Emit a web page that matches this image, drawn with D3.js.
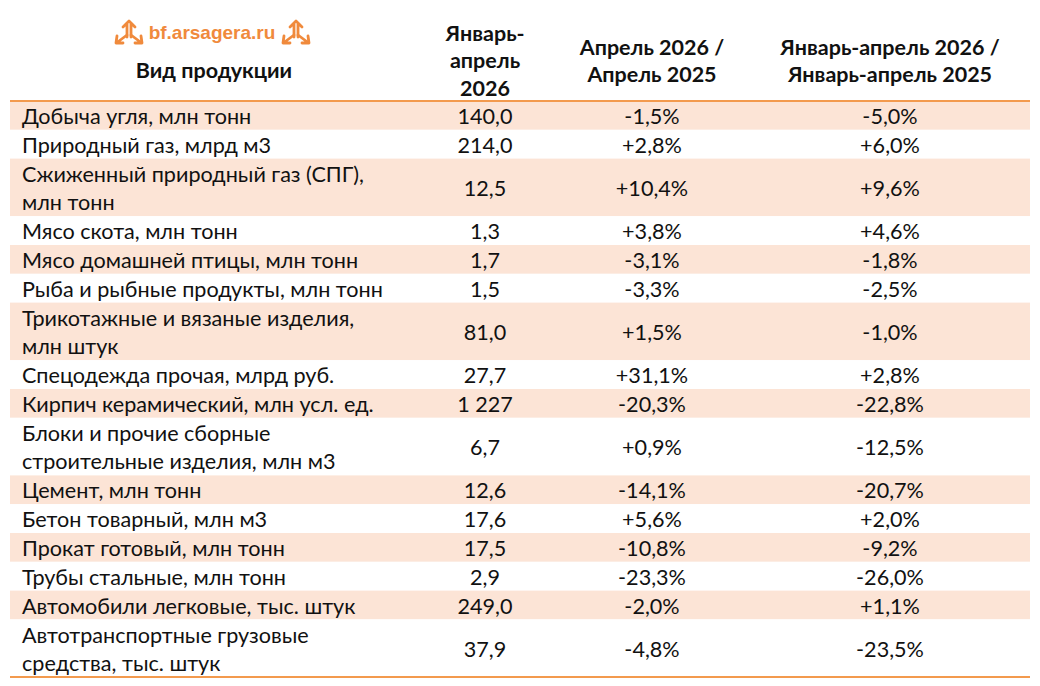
<!DOCTYPE html>
<html><head><meta charset="utf-8">
<script src="https://cdn.jsdelivr.net/npm/d3@7"></script>
<style>
body{margin:0;background:#fff;}
svg{display:block;font-family:Lato, "Open Sans", sans-serif;}
</style></head>
<body>
<script>
const products = [
  "Добыча угля, млн тонн",
  "Природный газ, млрд м3",
  "Сжиженный природный газ (СПГ),\nмлн тонн",
  "Мясо скота, млн тонн",
  "Мясо домашней птицы, млн тонн",
  "Рыба и рыбные продукты, млн тонн",
  "Трикотажные и вязаные изделия,\nмлн штук",
  "Спецодежда прочая, млрд руб.",
  "Кирпич керамический, млн усл. ед.",
  "Блоки и прочие сборные\nстроительные изделия, млн м3",
  "Цемент, млн тонн",
  "Бетон товарный, млн м3",
  "Прокат готовый, млн тонн",
  "Трубы стальные, млн тонн",
  "Автомобили легковые, тыс. штук",
  "Автотранспортные грузовые\nсредства, тыс. штук"
];
const janApr2026 = ["140,0","214,0","12,5","1,3","1,7","1,5","81,0","27,7","1 227","6,7","12,6","17,6","17,5","2,9","249,0","37,9"];
const aprYoY = ["-1,5%","+2,8%","+10,4%","+3,8%","-3,1%","-3,3%","+1,5%","+31,1%","-20,3%","+0,9%","-14,1%","+5,6%","-10,8%","-23,3%","-2,0%","-4,8%"];
const janAprYoY = ["-5,0%","+6,0%","+9,6%","+4,6%","-1,8%","-2,5%","-1,0%","+2,8%","-22,8%","-12,5%","-20,7%","+2,0%","-9,2%","-26,0%","+1,1%","-23,5%"];
const headers = [
  ["Вид продукции"],
  ["Январь-","апрель","2026"],
  ["Апрель 2026 /","Апрель 2025"],
  ["Январь-апрель 2026 /","Январь-апрель 2025"]
];
const logoText = "bf.arsagera.ru";

const W = 1040, H = 686;
const orange = "#F39A4E", band = "#FCE4D6";
const svg = d3.select("body").append("svg").attr("width", W).attr("height", H);

const rows = products.map((p, i) => ({
  lines: p.split("\n"), v1: janApr2026[i], v2: aprYoY[i], v3: janAprYoY[i]
}));
let acc = 0;
rows.forEach(r => { r.u0 = acc; acc += r.lines.length; r.u1 = acc; });
const y = d3.scaleLinear().domain([0, acc]).range([101, 677]);
const colX = [22, 485, 652, 890];
const x0 = 10, x1 = 1030;
const fs = 21.6, lineH = 27.5;

const g = svg.append("g");
const rg = g.selectAll("g.row").data(rows).join("g").attr("class", "row");
rg.append("rect")
  .attr("x", x0).attr("width", x1 - x0)
  .attr("y", d => y(d.u0)).attr("height", d => y(d.u1) - y(d.u0))
  .attr("fill", (d, i) => i % 2 === 0 ? band : "#fff");

rg.each(function(d) {
  const sel = d3.select(this);
  const mid = (y(d.u0) + y(d.u1)) / 2 + 1;
  const n = d.lines.length;
  d.lines.forEach((ln, k) => {
    sel.append("text").attr("x", colX[0])
      .attr("y", mid + (k - (n - 1) / 2) * lineH)
      .attr("dy", "0.35em").attr("font-size", fs).attr("fill", "#111")
      .text(ln);
  });
  [d.v1, d.v2, d.v3].forEach((v, j) => {
    sel.append("text").attr("x", colX[j + 1]).attr("y", mid)
      .attr("dy", "0.35em").attr("text-anchor", "middle")
      .attr("font-size", fs).attr("fill", "#111").text(v);
  });
});

// borders
svg.append("line").attr("x1", x0).attr("x2", x1).attr("y1", y(0)).attr("y2", y(0))
  .attr("stroke", orange).attr("stroke-width", 2);
svg.append("line").attr("x1", x0).attr("x2", x1).attr("y1", y(acc)).attr("y2", y(acc))
  .attr("stroke", orange).attr("stroke-width", 2);

// headers
const hdrCenterY = [[70], [33, 60, 88], [47, 74], [47, 74]];
const hdrX = [214, 485, 652, 890];
headers.forEach((h, j) => {
  h.forEach((t, k) => {
    svg.append("text").attr("x", hdrX[j]).attr("y", hdrCenterY[j][k])
      .attr("dy", "0.35em").attr("text-anchor", "middle")
      .attr("font-size", 21.5).attr("font-weight", "bold").attr("fill", "#111").text(t);
  });
});

// logo
const logo = svg.append("g");
logo.append("text").attr("x", 212).attr("y", 32).attr("dy", "0.35em")
  .attr("text-anchor", "middle").attr("font-size", 19).attr("font-weight", "bold")
  .attr("font-family", "Liberation Sans, Arial, sans-serif")
  .attr("fill", "#F08A3C").text(logoText);
function icon(cx, cy) {
  const ig = logo.append("g").attr("transform", `translate(${cx},${cy})`)
    .attr("stroke", "#F08A3C").attr("fill", "none").attr("stroke-width", 2.8)
    .attr("stroke-linejoin", "round").attr("stroke-linecap", "round");
  ig.append("path").attr("d", "M-2,5 L-2,-8 M2,5 L2,-8 M-6,-5 L0,-11 L6,-5");
  ig.append("path").attr("d", "M-2,3 L-10,9 M-12,4 L-13,11 L-6,11");
  ig.append("path").attr("d", "M2,3 L10,9 M12,4 L13,11 L6,11");
}
icon(129, 32);
icon(296, 32);
</script>
</body></html>
